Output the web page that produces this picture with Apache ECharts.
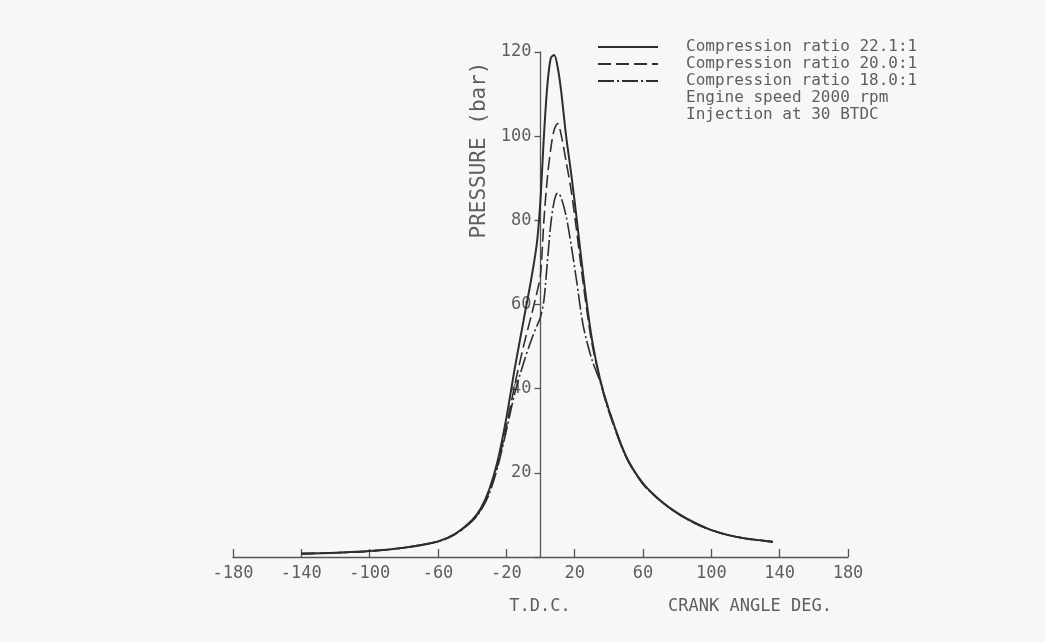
<!DOCTYPE html>
<html><head><meta charset="utf-8">
<script src="https://cdn.jsdelivr.net/npm/echarts@6/dist/echarts.min.js"></script>
<style>html,body{margin:0;padding:0;background:#f7f8f6}#c{width:1045px;height:642px}</style>
</head><body><div id="c"></div>
<script>
// ---- data ----
const angles = [-140,-120,-100,-80,-60,-50,-40,-35,-30,-25,-20,-15,-10,-5,-2,0,2,4,6,8,10,12,15,18,21,25,30,35,40,50,60,70,80,90,100,110,120,130,136];
const cr221 = [0.8,1.0,1.4,2.2,3.7,5.5,8.8,11.5,16,23,33,45,56,67,75,85,100,112,118.5,119.3,116.5,111,100,91,81,67,52,42,35,24,17.5,13.5,10.5,8.2,6.4,5.2,4.4,3.9,3.6];
const cr200 = [0.8,1.0,1.4,2.2,3.7,5.4,8.6,11.2,15.5,22,31,41,50,58,63,67,80,90,97,101.5,103,100.5,94,87,78,65,51,42,35,24,17.4,13.4,10.4,8.1,6.4,5.2,4.4,3.9,3.6];
const cr180 = [0.8,1.0,1.4,2.2,3.7,5.4,8.5,11,15,21.5,30,39,46,52,55,57,61,70,79,84.5,86.5,85.5,81,74,66,55,47,41.5,34.5,23.8,17.3,13.4,10.4,8.1,6.4,5.2,4.4,3.9,3.6];
const seriesNames = ['Compression ratio 22.1:1','Compression ratio 20.0:1','Compression ratio 18.0:1'];
const noteLines = ['Engine speed 2000 rpm','Injection at 30 BTDC'];
const xMin = -180, xMax = 180, xStep = 40;
const yMin = 0, yMax = 120, yStep = 20;
const xAxisName = 'CRANK ANGLE DEG.';
const tdcLabel = 'T.D.C.';
const yAxisName = 'PRESSURE (bar)';

const FONT = '"DejaVu Sans Mono", monospace';
const TXT = '#5e5e5e';
const LINE = '#2e2e2e';
const GL = 233, GR = 197;
const plotW = 1045 - GL - GR;
const zeroOffset = -(0 - xMin) / (xMax - xMin) * plotW;   // put the y axis at x = 0
const pairs = v => angles.map((a, i) => [a, v[i]]);
const chart = echarts.init(document.getElementById('c'), null, {renderer: 'canvas'});
const dashes = ['solid', [13, 5], [16, 3, 2, 3]];
const widths = [2, 1.6, 1.6];
chart.setOption({
  backgroundColor: '#f7f8f6',
  animation: false,
  grid: {left: GL, right: GR, top: 52, bottom: 85},
  xAxis: {
    type: 'value', min: xMin, max: xMax, interval: xStep,
    splitLine: {show: false},
    axisLine: {onZero: false, lineStyle: {color: '#555', width: 1.3}},
    axisTick: {inside: true, length: 8, lineStyle: {color: '#555', width: 1.3}},
    axisLabel: {color: TXT, fontFamily: FONT, fontSize: 17, margin: 8}
  },
  yAxis: {
    type: 'value', min: yMin, max: yMax, interval: yStep,
    position: 'left', offset: zeroOffset,
    splitLine: {show: false},
    axisLine: {onZero: false, lineStyle: {color: '#555', width: 1.3}},
    axisTick: {length: 6, lineStyle: {color: '#555', width: 1.3}},
    axisLabel: {color: TXT, fontFamily: FONT, fontSize: 17, margin: 9,
      formatter: v => v === 0 ? '' : String(v)}
  },
  legend: {
    orient: 'vertical', left: 597, top: 39, padding: 0, itemWidth: 60, itemHeight: 12, itemGap: 1,
    data: seriesNames,
    itemStyle: {opacity: 0},
    textStyle: {color: TXT, fontFamily: FONT, fontSize: 16, lineHeight: 14, padding: [0, 0, 0, 23]}
  },
  graphic: [
    {type: 'text', left: 686, top: 90, style: {text: noteLines[0], fill: TXT, font: '16px ' + FONT}},
    {type: 'text', left: 686, top: 107, style: {text: noteLines[1], fill: TXT, font: '16px ' + FONT}},
    {type: 'text', x: 540, y: 607, style: {text: tdcLabel, fill: TXT, font: '17px ' + FONT, align: 'center', verticalAlign: 'middle'}},
    {type: 'text', x: 750, y: 607, style: {text: xAxisName, fill: TXT, font: '17px ' + FONT, align: 'center', verticalAlign: 'middle'}},
    {type: 'text', x: 480, y: 150, rotation: Math.PI / 2, style: {text: yAxisName, fill: TXT, font: '21px ' + FONT, align: 'center', verticalAlign: 'middle'}}
  ],
  series: seriesNames.map((n, k) => ({
    name: n, type: 'line', symbol: 'none', smooth: 0.3,
    data: pairs([cr221, cr200, cr180][k]),
    lineStyle: {color: LINE, width: widths[k], type: dashes[k]},
    itemStyle: {color: LINE},
    z: 3 - k
  }))
});
</script></body></html>
